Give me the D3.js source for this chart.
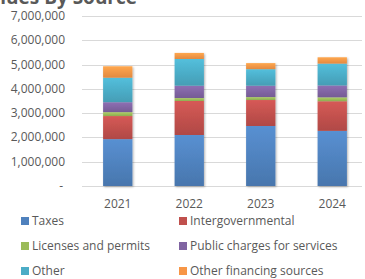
<!DOCTYPE html>
<html>
<head>
<meta charset="utf-8">
<script src="https://cdn.jsdelivr.net/npm/d3@7"></script>
<style>
  body { margin: 0; background: #fff; }
  svg { display: block; font-family: "Open Sans", "Liberation Sans", sans-serif; }
</style>
</head>
<body>
<div id="chart"></div>
<script>
// revenues by source, stacked columns

const years = ["2021", "2022", "2023", "2024"];
const taxes = [1930000, 2100000, 2470000, 2270000];
const intergov = [950000, 1400000, 1070000, 1220000];
const licenses = [160000, 120000, 120000, 160000];
const publicCharges = [410000, 510000, 470000, 490000];
const other = [1010000, 1100000, 680000, 900000];
const otherFinancing = [470000, 250000, 250000, 260000];
const yTicks = [0, 1000000, 2000000, 3000000, 4000000, 5000000, 6000000, 7000000];

const seriesNames = ["Taxes", "Intergovernmental", "Licenses and permits",
  "Public charges for services", "Other", "Other financing sources"];
const seriesVals = [taxes, intergov, licenses, publicCharges, other, otherFinancing];
const colors = ["#4f81bd", "#c0504d", "#9bbb59", "#8064a2", "#4bacc6", "#f79646"];

const width = 365, height = 279;
const margin = {top: 16, right: 0, bottom: 93, left: 82};

const svg = d3.select("#chart").append("svg")
    .attr("width", width)
    .attr("height", height);

// gradients, lighter on top like the old office look
const defs = svg.append("defs");
colors.forEach(function(c, i) {
  const g = defs.append("linearGradient")
      .attr("id", "grad" + i)
      .attr("x1", 0).attr("y1", 0).attr("x2", 0).attr("y2", 1);
  g.append("stop").attr("offset", "0%").attr("stop-color", d3.color(c).brighter(0.3));
  g.append("stop").attr("offset", "100%").attr("stop-color", d3.color(c).darker(0.25));
});

const x = d3.scaleBand()
    .domain(years)
    .range([margin.left, 368])
    .paddingInner(0.59)
    .paddingOuter(0.295);

const y = d3.scaleLinear()
    .domain([0, 7000000])
    .range([186, margin.top]);

// gridlines
svg.append("g")
  .selectAll("line")
  .data(yTicks)
  .join("line")
    .attr("x1", margin.left)
    .attr("x2", 362)
    .attr("y1", d => Math.round(y(d)) + 0.5)
    .attr("y2", d => Math.round(y(d)) + 0.5)
    .attr("stroke", "#d9d9d9")
    .attr("stroke-width", 1);

// y labels
svg.append("g")
  .selectAll("text")
  .data(yTicks)
  .join("text")
    .attr("x", d => d === 0 ? 63 : 65)
    .attr("y", d => y(d) + 4)
    .attr("text-anchor", "end")
    .attr("font-size", "12px")
    .attr("fill", "#595959")
    .text(d => d === 0 ? "-" : d3.format(",")(d));

// stack data
const rows = years.map(function(yr, i) {
  const r = {year: yr};
  seriesNames.forEach(function(s, j) { r[s] = seriesVals[j][i]; });
  return r;
});
const stacked = d3.stack().keys(seriesNames)(rows);

const shadow = defs.append("filter").attr("id", "shadow")
    .attr("x", "-20%").attr("y", "-5%").attr("width", "140%").attr("height", "115%");
shadow.append("feDropShadow")
    .attr("dx", 1).attr("dy", 1).attr("stdDeviation", 1.2)
    .attr("flood-color", "#000").attr("flood-opacity", 0.3);

const bars = svg.append("g").attr("filter", "url(#shadow)");
bars.selectAll("g")
  .data(stacked)
  .join("g")
    .attr("fill", (d, i) => "url(#grad" + i + ")")
  .selectAll("rect")
  .data(d => d)
  .join("rect")
    .attr("x", d => x(d.data.year))
    .attr("width", x.bandwidth())
    .attr("y", d => y(d[1]))
    .attr("height", d => y(d[0]) - y(d[1]));

// x labels
svg.append("g")
  .selectAll("text")
  .data(years)
  .join("text")
    .attr("x", d => x(d) + x.bandwidth() / 2)
    .attr("y", 208)
    .attr("text-anchor", "middle")
    .attr("font-size", "12px")
    .attr("fill", "#595959")
    .text(d => d);

// title, cut off at the top
svg.append("text")
    .attr("x", 137)
    .attr("y", 4)
    .attr("text-anchor", "end")
    .attr("font-size", "19px")
    .attr("font-weight", "bold")
    .attr("fill", "#595959")
    .text("Revenues By Source");

// legend
const legend = svg.append("g")
  .selectAll("g")
  .data(seriesNames)
  .join("g")
    .attr("transform", (d, i) => "translate(" + (i % 2 === 0 ? 21 : 179) + "," + (221 + Math.floor(i / 2) * 25) + ")");

legend.append("rect")
    .attr("x", 0)
    .attr("y", -4)
    .attr("width", 8)
    .attr("height", 8)
    .attr("fill", (d, i) => colors[i]);

legend.append("text")
    .attr("x", 11)
    .attr("y", 4)
    .attr("font-size", "12px")
    .attr("fill", "#595959")
    .text(d => d);
</script>
</body>
</html>
